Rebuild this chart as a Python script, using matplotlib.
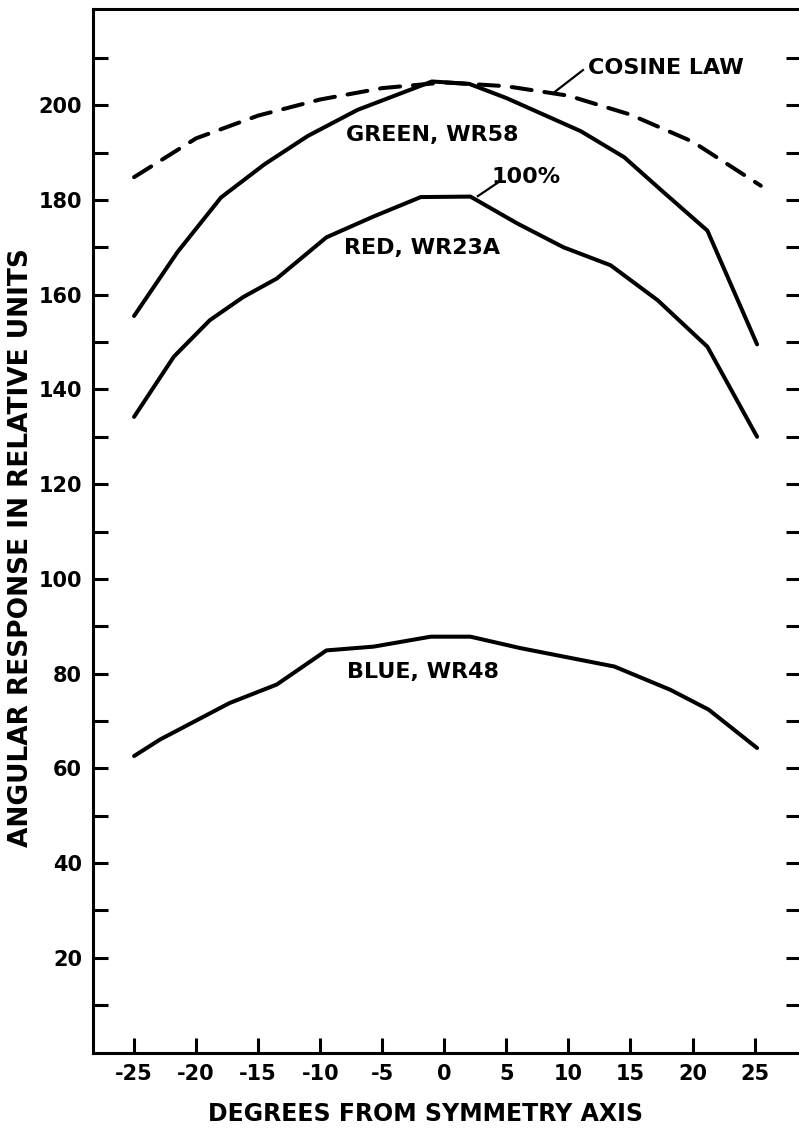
import matplotlib.pyplot as plt

# Angular response curves
green_x = [-25, -21.5, -18, -14.5, -11, -7, -3, -1, 2, 5, 8, 11, 14.5, 17.5, 21.2, 25.2]
green_y = [155.5, 169, 180.5, 187.5, 193.5, 199, 203, 205, 204.5, 201.5, 198, 194.5, 189, 182, 173.5, 149.5]

red_x = [-25, -21.8, -18.9, -16.2, -13.5, -9.5, -5.7, -1.9, 2.1, 5.9, 9.6, 13.4, 17.2, 21.2, 25.2]
red_y = [134.2, 146.9, 154.6, 159.5, 163.4, 172.1, 176.5, 180.6, 180.7, 175, 170, 166.2, 158.8, 149, 130]

blue_x = [-25, -22.9, -17.3, -13.5, -9.5, -5.7, -1.1, 2.1, 6.1, 13.7, 18.2, 21.3, 25.2]
blue_y = [62.6, 66.1, 73.8, 77.7, 84.9, 85.7, 87.8, 87.8, 85.4, 81.5, 76.6, 72.4, 64.3]

cos_x = [-25, -20, -15, -10, -5, 0, 5, 10, 15, 20, 25.5]
cos_y = [184.8, 193, 197.8, 201.2, 203.6, 204.8, 204, 202, 198, 192.3, 183]

x_ticks = [-25, -20, -15, -10, -5, 0, 5, 10, 15, 20, 25]
y_ticks = [20, 40, 60, 80, 100, 120, 140, 160, 180, 200]

plt.rcParams['font.family'] = ['DejaVu Sans']
plt.rcParams['font.weight'] = 'bold'

fig = plt.figure(figsize=(7.99, 11.28), dpi=100)
ax = fig.add_axes([93 / 799, 1 - 1052.6 / 1128, 708 / 799, 1043.6 / 1128])

lw = 2.9
ax.plot(green_x, green_y, color='black', linewidth=lw, solid_joinstyle='round', solid_capstyle='round')
ax.plot(red_x, red_y, color='black', linewidth=lw, solid_joinstyle='round', solid_capstyle='round')
ax.plot(blue_x, blue_y, color='black', linewidth=lw, solid_joinstyle='round', solid_capstyle='round')
ax.plot(cos_x, cos_y, color='black', linewidth=lw, linestyle=(0, (5, 3.2)), dash_capstyle='round')

# Labels on the curves
txt = dict(fontsize=16, fontweight='bold', ha='center', va='center')
ax.text(-0.96, 193.7, 'GREEN, WR58', **txt)
ax.text(-1.76, 169.8, 'RED, WR23A', **txt)
ax.text(-1.68, 80.3, 'BLUE, WR48', **txt)
ax.text(6.58, 184.8, '100%', **txt)
ax.text(17.86, 207.8, 'COSINE LAW', **txt)
ax.plot([2.7, 4.4], [180.8, 183.8], color='black', linewidth=1.6)
ax.plot([8.75, 11.17], [202.5, 207.4], color='black', linewidth=1.6)

ax.set_xlim(-28.31, 28.74)
ax.set_ylim(0, 220.3)
ax.set_xticks(x_ticks)
ax.set_xticklabels([str(v) for v in x_ticks])
ax.set_yticks(y_ticks)
ax.set_yticklabels([str(v) for v in y_ticks])
ax.set_yticks(range(10, 220, 10), minor=True)

ax.tick_params(axis='both', which='both', direction='in', length=11, width=2.2,
               labelsize=15, right=True, top=False)
ax.tick_params(axis='x', pad=8)
ax.tick_params(axis='y', pad=8)
for side in ax.spines.values():
    side.set_linewidth(2.2)

ax.set_xlabel('DEGREES FROM SYMMETRY AXIS', fontsize=17, fontweight='bold')
ax.xaxis.set_label_coords(0.47, -0.047)
ax.set_ylabel('ANGULAR RESPONSE IN RELATIVE UNITS', fontsize=19, fontweight='bold')
ax.yaxis.set_label_coords(-0.083, 0.484)

fig.savefig('out.png', dpi=100)
